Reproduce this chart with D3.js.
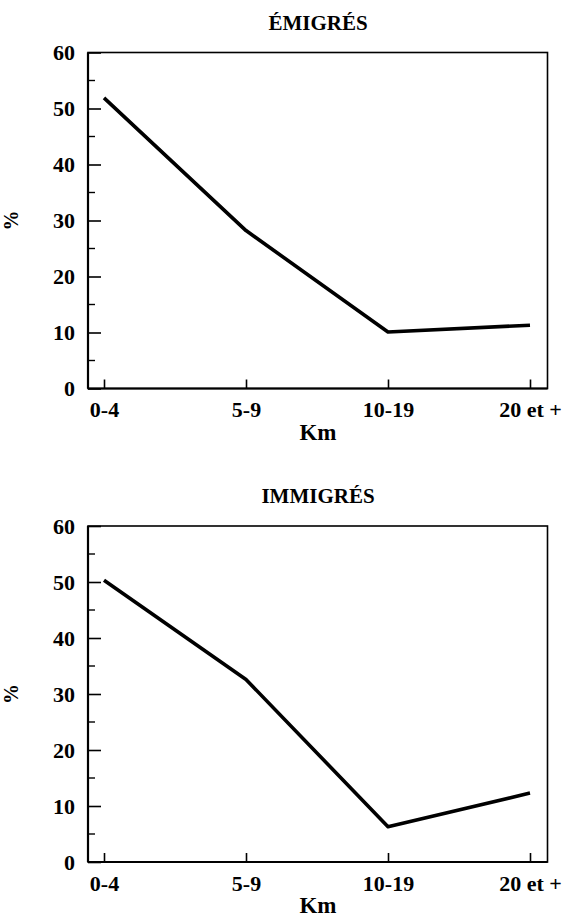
<!DOCTYPE html>
<html>
<head>
<meta charset="utf-8">
<script src="https://cdn.jsdelivr.net/npm/d3@7/dist/d3.min.js"></script>
<style>
  body { margin: 0; background: #fff; }
  svg text { font-family: "Liberation Serif", "DejaVu Serif", serif; fill: #000; }
</style>
</head>
<body>
<svg width="563" height="918"></svg>
<script>
// distance classes (Km) and % of migrants
const categories = ["0-4", "5-9", "10-19", "20 et +"];
const emigres = [51.9, 28.2, 10.1, 11.3];
const immigres = [50.3, 32.6, 6.3, 12.3];
const yTicks = [0, 10, 20, 30, 40, 50, 60];
const yMinor = [5, 15, 25, 35, 45, 55];

const svg = d3.select("svg");

function drawPanel(title, values, top) {
    const left = 88, right = 547.5;
    const plotTop = top, plotBottom = top + 336;
    const g = svg.append("g");

    const x = d3.scalePoint().domain(categories).range([104, 530]);
    const y = d3.scaleLinear().domain([0, 60]).range([plotBottom, plotTop]);

    // box
    g.append("rect")
        .attr("x", left).attr("y", plotTop)
        .attr("width", right - left).attr("height", plotBottom - plotTop)
        .attr("fill", "none").attr("stroke", "#000").attr("stroke-width", 1.6);
    // heavier left and bottom axes
    g.append("line").attr("x1", left).attr("x2", left).attr("y1", plotTop).attr("y2", plotBottom)
        .attr("stroke", "#000").attr("stroke-width", 2.2);
    g.append("line").attr("x1", left).attr("x2", right).attr("y1", plotBottom).attr("y2", plotBottom)
        .attr("stroke", "#000").attr("stroke-width", 2.2);

    // y axis: major ticks inside with labels
    const yAxis = d3.axisLeft(y).tickValues(yTicks).tickSize(-13).tickPadding(13);
    const ya = g.append("g").attr("transform", `translate(${left},0)`).call(yAxis);
    ya.select(".domain").remove();
    ya.selectAll("line").attr("stroke-width", 1.6);
    ya.selectAll("text").attr("font-size", 22).attr("font-weight", "bold").attr("font-family", null);

    // minor ticks
    g.selectAll(".minor").data(yMinor).join("line")
        .attr("x1", left).attr("x2", left + 7)
        .attr("y1", d => y(d)).attr("y2", d => y(d))
        .attr("stroke", "#000").attr("stroke-width", 1.4);

    // x axis: ticks pointing up
    const xAxis = d3.axisBottom(x).tickSize(-9).tickPadding(13);
    const xa = g.append("g").attr("transform", `translate(0,${plotBottom})`).call(xAxis);
    xa.select(".domain").remove();
    xa.selectAll("line").attr("stroke-width", 1.6);
    xa.selectAll("text").attr("font-size", 22).attr("font-weight", "bold").attr("font-family", null);

    // line
    const line = d3.line().x((d, i) => x(categories[i])).y(d => y(d));
    g.append("path").datum(values)
        .attr("d", line)
        .attr("fill", "none").attr("stroke", "#000")
        .attr("stroke-width", 3.6).attr("stroke-linejoin", "round");

    // title
    g.append("text").attr("x", 318).attr("y", top - 23)
        .attr("text-anchor", "middle").attr("font-size", 21).attr("font-weight", "bold")
        .text(title);
    // axis titles
    g.append("text").attr("x", 318).attr("y", plotBottom + 51)
        .attr("text-anchor", "middle").attr("font-size", 23).attr("font-weight", "bold").text("Km");
    g.append("text")
        .attr("transform", `translate(18,${(plotTop + plotBottom) / 2}) rotate(-90)`)
        .attr("text-anchor", "middle").attr("font-size", 20).attr("font-weight", "bold").text("%");
}

drawPanel("ÉMIGRÉS", emigres, 52.5);
drawPanel("IMMIGRÉS", immigres, 526);
</script>
</body>
</html>
